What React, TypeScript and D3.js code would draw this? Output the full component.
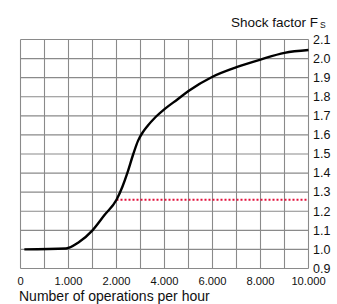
import React from "react";
import * as d3 from "d3";

const W = 337;
const H = 304;

// x axis: non-uniform tick spacing (each label at a grid line)
const xTickValues = [0, 1000, 2000, 4000, 6000, 8000, 10000];
const xTickLabels = ["0", "1.000", "2.000", "4.000", "6.000", "8.000", "10.000"];
// intermediate vertical grid lines (ops values)
const xGridValues = [0, 500, 1000, 1500, 2000, 3000, 4000, 5000, 6000, 7000, 8000, 9000, 10000];

const yTickValues = [0.9, 1.0, 1.1, 1.2, 1.3, 1.4, 1.5, 1.6, 1.7, 1.8, 1.9, 2.0, 2.1];
const yTickLabels = ["0.9", "1.0", "1.1", "1.2", "1.3", "1.4", "1.5", "1.6", "1.7", "1.8", "1.9", "2.0", "2.1"];

// curve data
const curveOps = [80, 950, 1200, 1500, 1750, 2000, 2250, 2450, 2700, 2900, 3100, 3300, 3600, 4000, 4550, 5000, 6000, 7000, 8000, 9000, 10000];
const curveFs = [1.0, 1.005, 1.035, 1.1, 1.18, 1.26, 1.33, 1.4, 1.5, 1.57, 1.615, 1.648, 1.69, 1.735, 1.787, 1.83, 1.905, 1.955, 1.995, 2.03, 2.045];

// reference line
const refFs = 1.26;
const refOpsStart = 2000;
const refOpsEnd = 10000;

const xTitle = "Number of operations per hour";
const yTitle = "Shock factor F";
const yTitleSub = "S";

const FONT = "Arial, 'Liberation Sans', Helvetica, sans-serif";

export default function App() {
  const x = d3
    .scaleLinear()
    .domain([0, 1000, 2000, 4000, 6000, 8000, 10000])
    .range([20.5, 68.5, 116.5, 164.5, 212.5, 260.5, 308.5]);
  const y = d3.scaleLinear().domain([0.9, 2.1]).range([268.5, 39.5]);

  const pts: [number, number][] = curveOps.map((o, i) => [o, curveFs[i]]);
  const line = d3
    .line<[number, number]>()
    .x((d) => x(d[0]))
    .y((d) => y(d[1]))
    .curve(d3.curveMonotoneX);

  return (
    <svg
      width={W}
      height={H}
      style={{ position: "absolute", left: 0, top: 0, background: "#fff" }}
      fontFamily={FONT}
    >
      <rect width={W} height={H} fill="#fff" />
      {/* grid */}
      <g stroke="#8a8a8a" strokeWidth={1.1}>
        {xGridValues.map((v) => (
          <line key={"gx" + v} x1={x(v)} x2={x(v)} y1={y(0.9)} y2={y(2.1)} />
        ))}
        {yTickValues.map((v) => (
          <line key={"gy" + v} x1={x(0)} x2={x(10000)} y1={y(v)} y2={y(v)} />
        ))}
      </g>
      {/* reference dotted line */}
      <line
        x1={x(refOpsStart)}
        x2={x(refOpsEnd)}
        y1={y(refFs)}
        y2={y(refFs)}
        stroke="#e2103c"
        strokeWidth={2}
        strokeDasharray="2,2"
      />
      {/* curve */}
      <path d={line(pts) || ""} fill="none" stroke="#000" strokeWidth={2.4} strokeLinejoin="round" />
      {/* y tick labels */}
      <g fontSize={12.5} fill="#111">
        {yTickValues.map((v, i) => (
          <text key={"yl" + v} x={313} y={y(v)} dy="0.34em">
            {yTickLabels[i]}
          </text>
        ))}
      </g>
      {/* x tick labels */}
      <g fontSize={11.2} fill="#111" textAnchor="middle">
        {xTickValues.map((v, i) => (
          <text key={"xl" + v} x={x(v)} y={284.5}>
            {xTickLabels[i]}
          </text>
        ))}
      </g>
      {/* titles */}
      <text x={231} y={26.7} fontSize={13.5} fill="#111">
        {yTitle}
      </text>
      <text x={320} y={28} fontSize={8.5} fill="#111">
        {yTitleSub}
      </text>
      <text x={19} y={301} fontSize={14} fill="#111">
        {xTitle}
      </text>
    </svg>
  );
}
